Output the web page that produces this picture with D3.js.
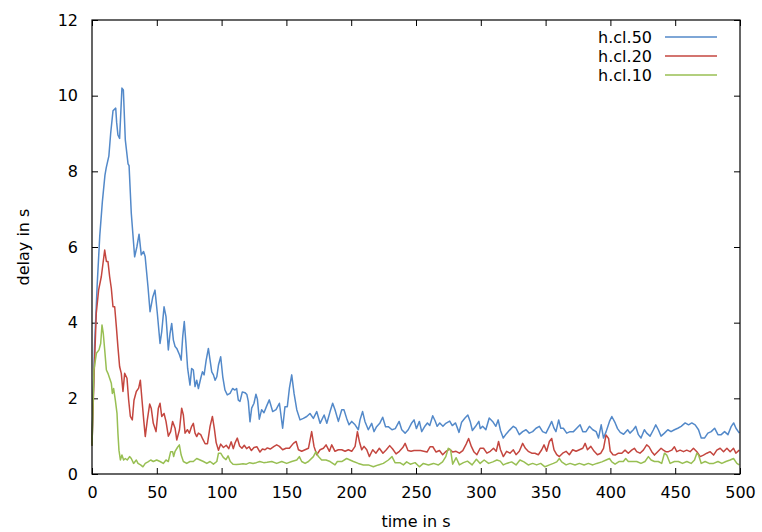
<!DOCTYPE html>
<html>
<head>
<meta charset="utf-8">
<script src="https://cdn.jsdelivr.net/npm/d3@7"></script>
<style>
  body { margin: 0; background: #fff; }
  svg text { font-family: 'DejaVu Sans', Verdana, sans-serif; fill: #000; }
</style>
</head>
<body>
<svg id="chart"></svg>
<script>
// Dimensions and margins
const svgWidth = 762
const svgHeight = 532
const margin = { top: 20, right: 22, bottom: 58, left: 92 }
const width = svgWidth - margin.left - margin.right
const height = svgHeight - margin.top - margin.bottom

// Axis ticks
const xTicks = [0, 50, 100, 150, 200, 250, 300, 350, 400, 450, 500]
const yTicks = [0, 2, 4, 6, 8, 10, 12]

// Series names
const seriesNames = ['h.cl.50', 'h.cl.20', 'h.cl.10']
const seriesColors = ['#5389c9', '#c4463f', '#98bf53']

// [time in s, delay in s]
const cl50 = [
  [0, 0.75], [1, 2.1], [2, 3.4], [4, 5.0], [6, 6.3], [8, 7.2], [10, 7.9], [11, 8.1], [13, 8.4], [14.4, 9.0],
  [16.2, 9.6], [18.3, 9.67], [19, 9.3], [20, 8.96], [21.3, 8.87], [23.1, 10.2], [24.2, 10.15], [25.7, 8.83], [27.8, 8.2], [28.6, 8.15],
  [30.3, 6.9], [32.9, 5.74], [34.6, 6.0], [36.3, 6.34], [38, 5.79], [39.8, 5.88], [41, 5.75], [43.2, 4.95], [44.8, 4.29], [46.9, 4.68],
  [48.6, 4.86], [50.4, 4.25], [52.5, 3.45], [53.8, 3.76], [55.6, 4.42], [57.1, 4.16], [58.9, 3.28], [60.2, 3.71], [61.5, 3.98], [62.8, 3.54],
  [64.1, 3.37], [65.4, 3.32], [67.5, 3.15], [68.8, 3.01], [70, 3.63], [71.2, 4.03], [72.5, 3.45], [73.8, 2.79], [75.6, 2.35], [76.9, 2.79],
  [78.2, 2.75], [79.5, 2.31], [80.8, 2.48], [82.1, 2.26], [83.9, 2.53], [85.2, 2.7], [86.5, 2.62], [88.1, 3.01], [89.8, 3.32], [91.1, 3.01],
  [92.4, 2.7], [93.7, 2.62], [95, 2.48], [96.3, 2.57], [97.6, 2.88], [99.3, 3.1], [100.9, 2.57], [102.6, 2.22], [104.4, 2.09], [106.5, 2.13],
  [108.5, 2.26], [110.3, 2.22], [111.6, 2.26], [112.9, 1.95], [114.2, 1.92], [116, 2.17], [118, 2.15], [119.5, 2.1], [120.6, 1.92], [121.9, 1.38],
  [123.2, 1.74], [125, 1.87], [126.5, 2.11], [127.6, 1.98], [129.1, 1.45], [130.9, 1.7], [132.7, 1.62], [134.8, 1.8], [136.8, 1.96], [139.4, 1.65],
  [142, 1.7], [144.6, 1.87], [147.1, 1.21], [148.9, 1.78], [150.7, 1.78], [152.3, 2.26], [154.1, 2.62], [155.9, 2.13], [158, 1.7], [160.5, 1.43],
  [163.1, 1.47], [165.7, 1.52], [168.2, 1.6], [170.8, 1.47], [173.4, 1.65], [176, 1.34], [179.1, 1.56], [181.2, 1.34], [183.7, 1.65], [185.7, 1.87],
  [187.5, 1.7], [190.1, 1.39], [192.7, 1.7], [194.4, 1.7], [196.5, 1.47], [198.3, 1.3], [200.4, 1.39], [203, 1.3], [205.5, 1.17], [206.8, 1.43],
  [208.8, 1.65], [210.6, 1.39], [213.2, 1.17], [215.8, 1.34], [217.6, 1.12], [219.6, 1.25], [222.2, 1.35], [224.3, 1.5], [226.5, 1.25], [228.6, 1.25],
  [231.5, 1.17], [234, 1.2], [237, 1.39], [239, 1.17], [241.6, 1.08], [244, 1.17], [246.7, 1.35], [248.5, 1.43], [250.3, 1.2], [252.6, 1.39],
  [254.4, 1.12], [257, 1.27], [258.8, 1.35], [260.6, 1.28], [262.9, 1.54], [264.8, 1.4], [266.3, 1.26], [268.3, 1.35], [270.8, 1.26], [273, 1.34],
  [276, 1.4], [278, 1.28], [280.5, 1.35], [283.2, 1.1], [285.2, 1.37], [287.8, 1.48], [290, 1.56], [291.8, 1.39], [293.5, 1.15], [296, 1.26],
  [298.5, 1.39], [299.6, 1.2], [301.4, 1.26], [303.9, 1.17], [306.5, 1.48], [309.1, 1.39], [311.6, 1.26], [313.4, 1.43], [315.2, 1.15], [317.3, 0.95],
  [319.6, 1.06], [322.2, 1.16], [325.1, 1.26], [327.2, 1.21], [329.7, 1.04], [332.3, 1.12], [334.9, 1.17], [337.4, 1.08], [340, 1.12], [342.6, 1.21],
  [345.2, 1.26], [347.7, 1.12], [350.3, 1.08], [352.9, 1.26], [354.7, 1.39], [356.5, 1.21], [358, 1.12], [360.1, 1.43], [361.7, 1.21], [363.7, 1.21],
  [366.3, 1.08], [368.9, 1.12], [371.5, 1.12], [374, 1.21], [376.6, 1.3], [378.7, 1.12], [381.2, 1.12], [383.8, 1.26], [386.4, 1.17], [389, 1.12],
  [390.8, 0.95], [392.9, 1.3], [394.7, 0.95], [396.7, 1.12], [399.3, 1.39], [401.1, 1.52], [403.7, 1.35], [405.5, 1.2], [407.6, 1.1], [410.2, 1.05],
  [413.3, 1.17], [415.1, 1.08], [417.7, 1.17], [419.5, 1.26], [421.6, 1.04], [423.6, 0.95], [426.2, 1.17], [428, 1.08], [430.6, 1.0], [433.2, 1.17],
  [435, 1.3], [437, 1.17], [439.1, 1.0], [441.7, 1.08], [444.3, 1.17], [446.8, 1.12], [449.4, 1.17], [452, 1.21], [454.6, 1.26], [457.7, 1.35],
  [460.3, 1.3], [462.8, 1.35], [465.4, 1.3], [468, 1.17], [470.1, 0.95], [472.6, 0.95], [475.2, 1.08], [477.8, 1.12], [480.4, 1.21], [483, 1.04],
  [485.5, 1.04], [488.1, 1.12], [490.7, 1.04], [493.3, 1.26], [495.1, 1.35], [496.9, 1.21], [499.5, 1.08]
]

const cl20 = [
  [0, 0.75], [1.5, 2.5], [3.3, 4.25], [5.1, 4.86], [7.2, 5.22], [8.5, 5.57], [9.8, 5.92], [11.1, 5.62], [12.3, 5.62], [13.6, 5.22],
  [14.9, 4.91], [16.2, 4.42], [17.5, 4.42], [18.8, 3.89], [20, 3.36], [21.3, 2.84], [22.6, 2.66], [23.9, 2.18], [25.2, 2.66], [27, 2.53],
  [28.3, 1.95], [29.6, 1.52], [31.1, 1.43], [32.4, 1.95], [34.2, 2.18], [36, 2.27], [37.3, 2.48], [38.6, 1.95], [39.9, 1.43], [41.1, 0.99],
  [42.7, 1.43], [44.5, 1.85], [45.7, 1.74], [47.3, 1.34], [49.4, 1.12], [51.2, 1.74], [52.5, 1.87], [53.8, 1.52], [55.6, 1.6], [57.1, 1.39],
  [58.9, 1.0], [60.7, 1.12], [62.2, 1.39], [64.1, 1.21], [65.4, 0.9], [67.5, 1.17], [69.2, 1.74], [70.5, 1.56], [71.8, 1.08], [73.6, 1.17],
  [75.1, 1.08], [76.9, 1.26], [78.2, 1.34], [79.5, 1.08], [80.8, 0.99], [82.1, 1.08], [83.9, 1.04], [85.5, 0.92], [87.3, 0.8], [89.1, 0.8],
  [91.1, 1.26], [92.9, 1.52], [94.4, 1.2], [95.8, 0.83], [97.6, 0.63], [99.3, 0.79], [101.4, 0.7], [103.6, 0.76], [105.5, 0.67], [107.4, 0.85],
  [109, 0.67], [110.5, 0.83], [112.1, 0.95], [113.9, 0.74], [115.7, 0.68], [117.5, 0.76], [119.3, 0.67], [121.2, 0.72], [123, 0.62], [125, 0.7],
  [127.3, 0.72], [129.6, 0.58], [131.5, 0.66], [133.5, 0.64], [135.3, 0.69], [137.5, 0.66], [140.5, 0.73], [142.5, 0.77], [144.6, 0.73], [147.1, 0.64],
  [149.7, 0.68], [152.3, 0.68], [155.4, 0.81], [157.5, 0.86], [159.3, 0.64], [161.8, 0.6], [164.4, 0.64], [167, 0.68], [169.5, 1.12], [171.3, 0.73],
  [173.4, 0.51], [176, 0.64], [178.6, 0.68], [180.6, 0.77], [183.2, 0.6], [185, 0.77], [187.5, 0.6], [190.1, 0.64], [192.7, 0.64], [195.3, 0.6],
  [197.8, 0.64], [200.4, 0.6], [203, 0.73], [204.8, 1.12], [206.3, 0.86], [208.1, 0.64], [209.9, 0.73], [212, 0.64], [214, 0.46], [216.6, 0.64],
  [219.1, 0.55], [221.7, 0.68], [224.5, 0.55], [227.1, 0.64], [229.7, 0.75], [232, 0.66], [234.6, 0.53], [237.2, 0.6], [239.8, 0.7], [241.6, 0.81],
  [243.8, 0.62], [246.2, 0.6], [248.5, 0.62], [251, 0.62], [253.5, 0.62], [256, 0.6], [258.5, 0.58], [260.8, 0.72], [263, 0.72], [265.5, 0.58],
  [268.1, 0.62], [270.6, 0.51], [273.2, 0.6], [275.8, 0.66], [278.3, 0.58], [280.9, 0.6], [283.5, 0.55], [286.1, 0.62], [288.7, 0.79], [290.6, 0.94],
  [292.7, 0.73], [294.8, 0.58], [297, 0.51], [299.5, 0.68], [302.1, 0.68], [304.7, 0.55], [307.3, 0.6], [309.8, 0.68], [311.9, 0.6], [313.7, 0.86],
  [315.2, 0.64], [317.4, 0.46], [319.9, 0.6], [322.5, 0.55], [325.1, 0.64], [327.2, 0.51], [329.7, 0.6], [332.3, 0.81], [334.4, 0.68], [336.6, 0.6],
  [339.3, 0.55], [341.8, 0.55], [344.4, 0.51], [347, 0.64], [348.8, 0.77], [350.8, 0.6], [352.9, 0.86], [354.7, 0.94], [356.5, 0.64], [358.6, 0.51],
  [360.6, 0.46], [363.2, 0.55], [365.8, 0.6], [368.3, 0.51], [370.9, 0.64], [373.5, 0.6], [376.1, 0.64], [378.7, 0.68], [380.5, 0.81], [382.3, 0.64],
  [384.9, 0.73], [387.5, 0.6], [390, 0.51], [392.6, 0.55], [394.7, 0.68], [396.6, 1.03], [398.6, 0.94], [399.9, 0.6], [402, 0.51], [403.7, 0.5],
  [406.2, 0.55], [408.8, 0.55], [411.3, 0.63], [413.8, 0.55], [416.4, 0.63], [418.5, 0.68], [420.3, 0.59], [422.8, 0.55], [425.4, 0.63], [428, 0.77],
  [429.8, 0.72], [431.9, 0.59], [434, 0.5], [436.5, 0.59], [439.1, 0.68], [440.9, 0.63], [442.7, 0.59], [444.8, 0.59], [447.3, 0.63], [449.4, 0.72],
  [451.2, 0.59], [453.8, 0.63], [456.4, 0.59], [458.9, 0.63], [461.5, 0.59], [464.1, 0.68], [466.7, 0.59], [469.3, 0.46], [471.8, 0.5], [474.4, 0.55],
  [477, 0.59], [479.6, 0.5], [482.1, 0.63], [484.7, 0.68], [487.3, 0.59], [489.9, 0.68], [492.4, 0.59], [495, 0.68], [496.8, 0.55], [499.4, 0.63]
]

const cl10 = [
  [0, 0.75], [1.5, 2.75], [3.4, 3.19], [5.4, 3.28], [6.7, 3.45], [7.7, 3.94], [8.7, 3.72], [9.8, 3.28], [11.1, 2.75], [12.3, 2.66],
  [13.6, 2.53], [14.9, 2.4], [15.7, 2.13], [16.7, 2.26], [18, 1.95], [19.3, 1.6], [20, 1.08], [20.8, 0.63], [21.9, 0.37], [23.1, 0.5],
  [24.4, 0.37], [25.7, 0.41], [27.2, 0.37], [29, 0.46], [30.3, 0.41], [32.1, 0.28], [34.2, 0.37], [35.5, 0.28], [37.5, 0.24], [39.3, 0.19],
  [41.1, 0.28], [43.2, 0.32], [45.3, 0.37], [47.3, 0.33], [49.9, 0.37], [52.5, 0.33], [55, 0.28], [57.1, 0.37], [58.9, 0.33], [60.7, 0.59],
  [62.2, 0.59], [63, 0.46], [64.1, 0.6], [65.9, 0.7], [67.4, 0.77], [68.8, 0.5], [70.5, 0.33], [73.1, 0.28], [75.6, 0.33], [78.2, 0.33],
  [80.8, 0.41], [83.4, 0.37], [86, 0.33], [88.6, 0.28], [91.1, 0.33], [93.7, 0.26], [96.3, 0.33], [97.6, 0.55], [99.3, 0.55], [101.3, 0.44],
  [103.4, 0.38], [105, 0.48], [106.7, 0.33], [108.8, 0.26], [111.3, 0.25], [113.9, 0.26], [116.5, 0.27], [119.1, 0.26], [121.7, 0.3], [124.3, 0.28],
  [126.8, 0.3], [129.4, 0.33], [132.5, 0.3], [135.1, 0.31], [138.7, 0.33], [142.5, 0.28], [146.4, 0.33], [150.2, 0.28], [154.1, 0.33], [158, 0.37],
  [160, 0.46], [161.8, 0.33], [164.4, 0.28], [167, 0.33], [170.8, 0.46], [172.8, 0.59], [174.7, 0.46], [177.2, 0.37], [180.6, 0.37], [183.7, 0.33],
  [187.5, 0.24], [189.3, 0.33], [192.7, 0.33], [196.5, 0.41], [199.1, 0.37], [201.7, 0.33], [205.5, 0.28], [209.4, 0.24], [213.2, 0.24], [217.1, 0.19],
  [221, 0.24], [224.8, 0.28], [228.7, 0.37], [231.5, 0.46], [233.8, 0.3], [237.5, 0.3], [240.3, 0.24], [242.8, 0.32], [245.6, 0.26], [249.3, 0.3],
  [252.6, 0.19], [255.7, 0.28], [259.6, 0.24], [263.5, 0.28], [267.3, 0.24], [270.5, 0.32], [273, 0.46], [274.9, 0.68], [276.7, 0.64], [278.3, 0.26],
  [281, 0.43], [283.5, 0.24], [286.6, 0.3], [289.7, 0.34], [293.3, 0.24], [296.6, 0.39], [299.5, 0.28], [302.6, 0.37], [306, 0.28], [309.3, 0.32],
  [312.4, 0.37], [315, 0.34], [317.4, 0.24], [319.9, 0.28], [323.8, 0.32], [327.2, 0.24], [330.2, 0.37], [333.3, 0.32], [336.6, 0.24], [340, 0.28],
  [343.1, 0.24], [346.2, 0.28], [349.5, 0.19], [353, 0.24], [356, 0.28], [358.6, 0.32], [360.6, 0.41], [362.4, 0.32], [365.8, 0.24], [368.9, 0.28],
  [372.7, 0.24], [376.1, 0.28], [379.7, 0.24], [383, 0.28], [386.4, 0.24], [389.5, 0.28], [393.4, 0.32], [396.7, 0.37], [399.3, 0.41], [401.1, 0.32],
  [403.6, 0.26], [406.6, 0.33], [410, 0.33], [411.8, 0.41], [413.8, 0.33], [416.9, 0.33], [420.3, 0.33], [423.6, 0.28], [426.7, 0.33], [429.3, 0.46],
  [431.4, 0.37], [434, 0.33], [437, 0.33], [439.6, 0.28], [441.7, 0.55], [443.5, 0.5], [446.1, 0.28], [449.4, 0.33], [452.5, 0.33], [455.6, 0.28],
  [459, 0.33], [462.3, 0.28], [464.9, 0.37], [466.7, 0.55], [468, 0.5], [470.1, 0.28], [473.1, 0.33], [476.2, 0.28], [479.6, 0.28], [483, 0.33],
  [486, 0.28], [489.1, 0.33], [492.4, 0.37], [495, 0.41], [497.6, 0.28], [499.4, 0.24]
]

const seriesData = [cl50, cl20, cl10]

const svg = d3.select('#chart')
  .attr('width', svgWidth)
  .attr('height', svgHeight)

const plot = svg.append('g')
  .attr('transform', `translate(${margin.left}, ${margin.top})`)

// Scales
const xScale = d3.scaleLinear().domain([0, 500]).range([0, width])
const yScale = d3.scaleLinear().domain([0, 12]).range([height, 0])

// Axes: ticks point inward, mirrored on top and right
const xAxis = d3.axisBottom(xScale).tickValues(xTicks).tickSize(-6).tickPadding(13).tickFormat(d3.format('d'))
const yAxis = d3.axisLeft(yScale).tickValues(yTicks).tickSize(-6).tickPadding(14).tickFormat(d3.format('d'))
const xAxisTop = d3.axisTop(xScale).tickValues(xTicks).tickSize(-6).tickFormat('')
const yAxisRight = d3.axisRight(yScale).tickValues(yTicks).tickSize(-6).tickFormat('')

function styleAxis (g) {
  g.select('.domain').remove()
  g.selectAll('.tick line').attr('stroke', '#000').attr('stroke-width', 1)
  g.selectAll('.tick text').style('font-size', '16px')
}

plot.append('g').attr('transform', `translate(0, ${height})`).call(xAxis).call(styleAxis)
plot.append('g').call(yAxis).call(styleAxis)
plot.append('g').call(xAxisTop).call(styleAxis)
plot.append('g').attr('transform', `translate(${width}, 0)`).call(yAxisRight).call(styleAxis)

// Series lines
const line = d3.line()
  .x(d => xScale(d[0]))
  .y(d => yScale(d[1]))

seriesData.forEach((data, i) => {
  plot.append('path')
    .datum(data)
    .attr('fill', 'none')
    .attr('stroke', seriesColors[i])
    .attr('stroke-width', 1.5)
    .attr('stroke-linejoin', 'round')
    .attr('d', line)
})

// Frame
plot.append('rect')
  .attr('width', width)
  .attr('height', height)
  .attr('fill', 'none')
  .attr('stroke', '#000')
  .attr('stroke-width', 1.2)

// Legend, top right inside the frame
const legend = svg.append('g')
  .attr('transform', 'translate(652, 37)')

seriesNames.forEach((name, i) => {
  const row = legend.append('g').attr('transform', `translate(0, ${i * 19})`)
  row.append('text')
    .attr('x', 0)
    .attr('y', 0)
    .attr('dy', '0.35em')
    .attr('text-anchor', 'end')
    .style('font-size', '16px')
    .text(name)
  row.append('line')
    .attr('x1', 13)
    .attr('x2', 65)
    .attr('y1', 0)
    .attr('y2', 0)
    .attr('stroke', seriesColors[i])
    .attr('stroke-width', 1.5)
})

// Axis labels
svg.append('text')
  .attr('text-anchor', 'middle')
  .attr('x', margin.left + width / 2)
  .attr('y', svgHeight - 5)
  .style('font-size', '16px')
  .text('time in s')

svg.append('text')
  .attr('text-anchor', 'middle')
  .attr('transform', `translate(29, ${margin.top + height / 2}) rotate(-90)`)
  .style('font-size', '16px')
  .text('delay in s')
</script>
</body>
</html>
